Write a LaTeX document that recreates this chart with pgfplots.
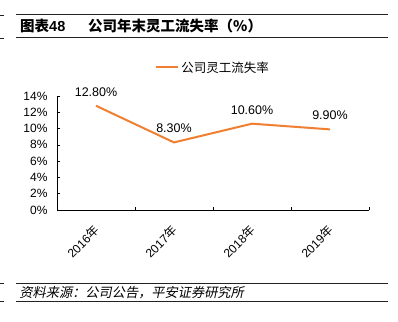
\documentclass[border=0pt]{standalone}
\usepackage{pgfplots}
\pgfplotsset{compat=1.18}
\usepackage{fontspec}
\setmainfont{Liberation Sans}
\newfontfamily\cjk{Noto Sans CJK SC}
\definecolor{lineor}{HTML}{F07F32}
\definecolor{rulec}{HTML}{222222}
\begin{document}
\begin{tikzpicture}[x=1pt,y=1pt]
\useasboundingbox (0,0) rectangle (398,321);
\fill[white] (0,0) rectangle (398,321);
% title rules
\draw[rulec,line width=1pt] (16,306) -- (388,306);
\draw[rulec,line width=1pt] (16,283) -- (388,283);
\draw[rulec,line width=0.8pt] (0,306) -- (4,306);
\draw[rulec,line width=0.8pt] (0,283) -- (4,283);
\node[anchor=west,inner sep=0pt,font=\fontsize{14.5}{16}\selectfont\bfseries] at (20,294.5) {{\cjk\bfseries 图表}48};
\node[anchor=west,inner sep=0pt,font=\fontsize{14.5}{16}\selectfont\bfseries] at (88,294.5) {\cjk\bfseries 公司年末灵工流失率（\%）};
% source rules
\draw[rulec,line width=1pt] (16,38) -- (388,38);
\draw[rulec,line width=1pt] (16,20) -- (388,20);
\draw[rulec,line width=0.8pt] (0,38) -- (4,38);
\draw[rulec,line width=0.8pt] (0,20) -- (4,20);
\node[anchor=west,inner sep=0pt] at (19,28.5) {\tikz[baseline]\node[inner sep=0pt,xslant=0.2,font=\fontsize{13.2}{14}\selectfont]{\cjk 资料来源：公司公告，平安证券研究所};};
\begin{axis}[
  at={(57pt,111pt)}, anchor=south west,
  scale only axis, width=312pt, height=114pt,
  xmin=-0.5, xmax=3.5, ymin=0, ymax=14,
  axis lines*=left,
  axis line style={black, line width=0.6pt},
  xtick={0,1,2,3},
  xticklabels={2016{\cjk 年},2017{\cjk 年},2018{\cjk 年},2019{\cjk 年}},
  major x tick style={draw=none},
  minor xtick={-0.5,0.5,1.5,2.5,3.5},
  minor tick length=3pt,
  minor x tick style={black, line width=0.6pt},
  xticklabel style={xshift=1pt, yshift=-18pt, rotate=45, anchor=east, font=\fontsize{12}{13}\selectfont, inner sep=0pt},
  ytick={0,2,...,14},
  yticklabel={\pgfmathprintnumber{\tick}\%},
  yticklabel style={font=\fontsize{12}{13}\selectfont, xshift=-6pt},
  /pgf/number format/assume math mode=true,
  tick align=inside,
  major tick length=3pt,
  ytick style={black, line width=0.6pt},
  clip=false,
  legend style={at={(0.5,1.25)}, anchor=center, draw=none, fill=none, font=\fontsize{12.5}{14}\selectfont},
  legend image code/.code={\draw[#1] (0pt,0pt) -- (22pt,0pt);},
]
\addplot[lineor, line width=2pt, mark=none,
  nodes near coords={\pgfmathprintnumber[fixed,fixed zerofill,precision=2]{\pgfplotspointmeta}\%},
  nodes near coords style={black, font=\fontsize{12.5}{14}\selectfont, yshift=5pt},
  point meta=y] coordinates {(0,12.8) (1,8.3) (2,10.6) (3,9.9)};
\addlegendentry{\cjk 公司灵工流失率}
\end{axis}
\end{tikzpicture}
\end{document}
